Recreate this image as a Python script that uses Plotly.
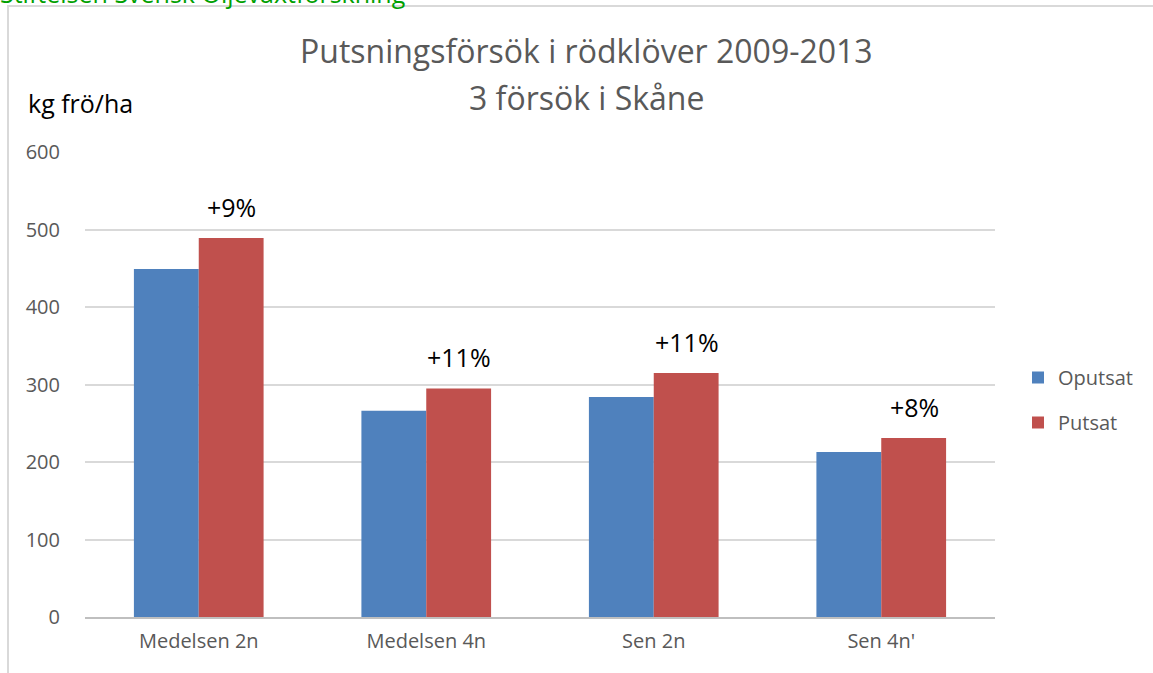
import plotly.graph_objects as go

categories = ["Medelsen 2n", "Medelsen 4n", "Sen 2n", "Sen 4n'"]
oputsat = [449, 266, 284, 213]
putsat = [489, 295, 315, 231]
labels = ["+9%", "+11%", "+11%", "+8%"]
yticks = [0, 100, 200, 300, 400, 500, 600]

FONT = "'Open Sans', sans-serif"
W, H = 1153, 673
L, R, T, B = 85, 158, 152, 56
pw = W - L - R
ph = H - T - B

def px(x):
    return (x - L) / pw

def py(y):
    return (H - B - y) / ph

fig = go.Figure()
fig.add_trace(go.Bar(x=categories, y=oputsat, name="Oputsat", marker_color="#4f81bd",
                     marker_line_width=0, legendgroup="a"))
fig.add_trace(go.Bar(x=categories, y=putsat, name="Putsat", marker_color="#c0504d",
                     marker_line_width=0, legendgroup="b"))

for c, v, t in zip(categories, putsat, labels):
    fig.add_annotation(x=c, y=v, text=t, showarrow=False, xref="x", yref="y",
                       xshift=33, yshift=12, yanchor="bottom",
                       font=dict(family=FONT, size=25, color="#000000"))

fig.add_annotation(x=px(586), y=py(51), xref="paper", yref="paper", text="Putsningsförsök i rödklöver 2009-2013",
                   xanchor="center", yanchor="middle",
                   showarrow=False, font=dict(family=FONT, size=32, color="#595959"))
fig.add_annotation(x=px(586), y=py(98), xref="paper", yref="paper", text="3 försök i Skåne",
                   xanchor="center", yanchor="middle",
                   showarrow=False, font=dict(family=FONT, size=32, color="#595959"))
fig.add_annotation(x=px(26), y=py(103), xref="paper", yref="paper", text="kg frö/ha",
                   xanchor="left", yanchor="middle",
                   showarrow=False, font=dict(family=FONT, size=25, color="#000000"))
fig.add_annotation(x=px(-2), y=py(-7), xref="paper", yref="paper", text="Stiftelsen Svensk Oljeväxtforskning",
                   xanchor="left", yanchor="middle",
                   showarrow=False, font=dict(family=FONT, size=25, color="#00a000"))

fig.add_shape(type="rect", xref="paper", yref="paper", x0=px(8), x1=px(1200), y0=py(6), y1=py(720),
              line=dict(color="#d9d9d9", width=2), fillcolor="rgba(0,0,0,0)", layer="below")

fig.update_layout(
    width=W, height=H,
    margin=dict(l=L, r=R, t=T, b=B),
    paper_bgcolor="white", plot_bgcolor="white",
    barmode="group", bargap=0.43, bargroupgap=0,
    font=dict(family=FONT, color="#595959"),
    legend=dict(x=px(1018), y=py(358), xanchor="left", yanchor="top",
                font=dict(family=FONT, size=20, color="#595959"),
                itemwidth=30, traceorder="grouped", tracegroupgap=16, bgcolor="rgba(0,0,0,0)"),
    xaxis=dict(showgrid=False, showline=True, linecolor="#bfbfbf", linewidth=2,
               tickfont=dict(family=FONT, size=20, color="#595959"), ticks="outside", ticklen=5,
               tickcolor="rgba(0,0,0,0)"),
    yaxis=dict(range=[0, 600], tickvals=yticks, showgrid=True, gridcolor="#d9d9d9", gridwidth=1.5,
               zeroline=False, showline=False, ticks="outside", ticklen=20, tickcolor="rgba(0,0,0,0)",
               tickfont=dict(family=FONT, size=20, color="#595959")),
)

fig.write_html("out.html", config={"displayModeBar": False},
               post_script="document.body.style.margin='0';")
